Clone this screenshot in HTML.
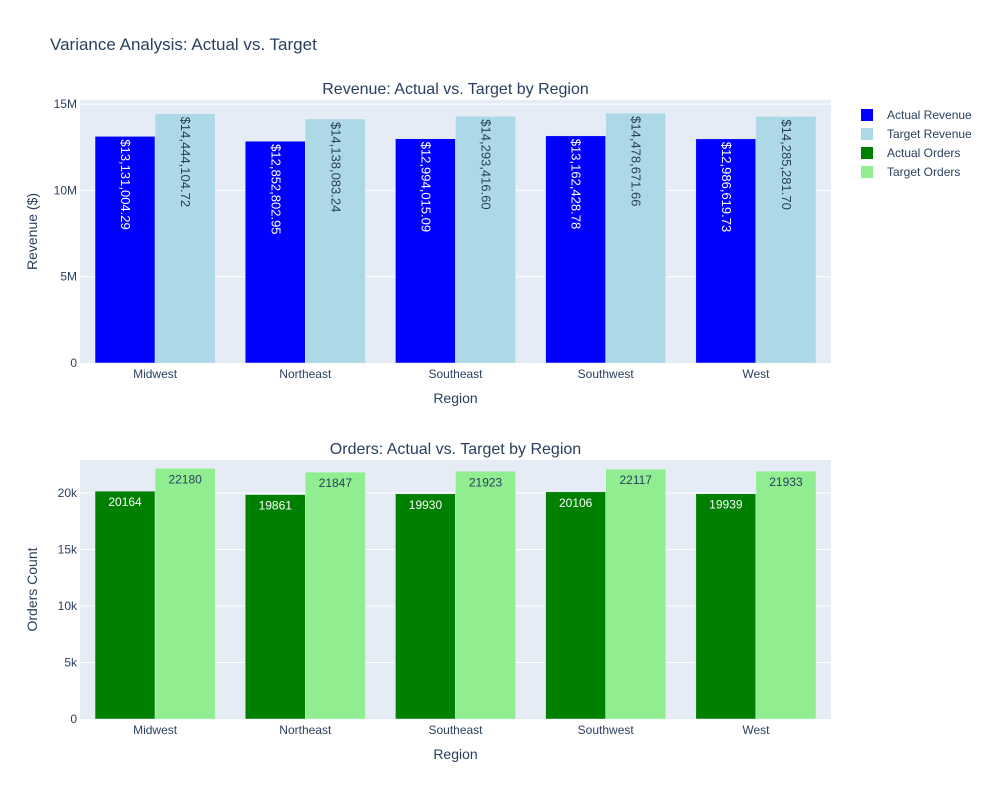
<!DOCTYPE html>
<html><head><meta charset="utf-8">
<style>
body{margin:0;background:#fff;}
svg{font-family:"Liberation Sans",Arial,sans-serif;}
</style></head>
<body>
<svg id="chart" width="1000" height="800"></svg>
<script>
const regions = ["Midwest","Northeast","Southeast","Southwest","West"];
const actualRevenue = [13131004.29,12852802.95,12994015.09,13162428.78,12986619.73];
const targetRevenue = [14444104.72,14138083.24,14293416.60,14478671.66,14285281.70];
const actualOrders = [20164,19861,19930,20106,19939];
const targetOrders = [22180,21847,21923,22117,21933];
const revTicks = [0,5e6,10e6,15e6];
const revTickLabels = ["0","5M","10M","15M"];
const ordTicks = [0,5000,10000,15000,20000];
const ordTickLabels = ["0","5k","10k","15k","20k"];

const NS="http://www.w3.org/2000/svg";
const svg=document.getElementById('chart');
function mk(tag,attrs,parent){const e=document.createElementNS(NS,tag);for(const k in attrs)e.setAttribute(k,attrs[k]);(parent||svg).appendChild(e);return e;}
function txt(s,attrs,parent){const e=mk('text',attrs,parent);e.textContent=s;return e;}
const fmtMoney=v=>'$'+v.toLocaleString('en-US',{minimumFractionDigits:2,maximumFractionDigits:2});

const X0=80,X1=831,BAND=(X1-X0)/regions.length;
function xCenter(i){return X0+BAND*(i+0.5);}

let t=txt("Variance Analysis: Actual vs. Target",{x:50,y:50,'font-size':17,fill:'#2a3f5f'});


function panel(cfg){
  const g=mk('g',{});
  
  
  const y=v=>cfg.y0-(v/cfg.unit)*cfg.unitPx;
  const bg=mk('rect',{x:X0,y:cfg.top,width:X1-X0,height:cfg.y0-cfg.top,fill:'#E5ECF6'},g);
  
  cfg.ticks.forEach((v,i)=>{
    const yy=y(v);
    if(v>0){const l=mk('line',{x1:X0,x2:X1,y1:yy,y2:yy,stroke:'#fff','stroke-width':1},g);
      }
    const tl=txt(cfg.tickLabels[i],{x:X0-3,y:yy+4,'text-anchor':'end','font-size':12,fill:'#2a3f5f'},g);
    
  });
  const bw=BAND*0.8/2;
  regions.forEach((r,i)=>{
    const c=xCenter(i);
    [[cfg.actual,cfg.colA,'#fff',c-bw],[cfg.target,cfg.colT,'#2a3f5f',c]].forEach((s,k)=>{
      const v=s[0][i],top=y(v);
      const b=mk('rect',{x:s[3],y:top,width:bw,height:cfg.y0-top,fill:s[1],stroke:'#E5ECF6','stroke-width':0.5},g);
      
      
      const cx=s[3]+bw/2;
      let lab;
      if(cfg.rotate){
        lab=txt(fmtMoney(v),{x:0,y:0,'font-size':13,fill:s[2],transform:`translate(${cx-4},${top+3}) rotate(90)`},g);
      } else {
        lab=txt(String(v),{x:cx,y:top+15,'text-anchor':'middle','font-size':12,fill:s[2]},g);
      }
      
    });
    const xl=txt(r,{x:c,y:cfg.y0+15,'text-anchor':'middle','font-size':12,fill:'#2a3f5f'},g);
    
  });
  const st=txt(cfg.title,{x:(X0+X1)/2,y:cfg.top-6,'text-anchor':'middle','font-size':16,fill:'#2a3f5f'},g);
  
  const xt=txt("Region",{x:(X0+X1)/2,y:cfg.y0+40,'text-anchor':'middle','font-size':14,fill:'#2a3f5f'},g);
  
  const ym=(cfg.top+cfg.y0)/2;
  const yt=txt(cfg.ytitle,{x:0,y:0,'text-anchor':'middle','font-size':14,fill:'#2a3f5f',transform:`translate(37,${ym}) rotate(-90)`},g);
  
}
panel({name:'revenue-panel',kind:'revenue',top:100,y0:363,unit:5e6,unitPx:86.3,ticks:revTicks,tickLabels:revTickLabels,
  actual:actualRevenue,target:targetRevenue,colA:'#0000ff',colT:'#add8e6',rotate:true,
  title:'Revenue: Actual vs. Target by Region',ytitle:'Revenue ($)'});
panel({name:'orders-panel',kind:'orders',top:460,y0:719,unit:5000,unitPx:56.5,ticks:ordTicks,tickLabels:ordTickLabels,
  actual:actualOrders,target:targetOrders,colA:'#008000',colT:'#90ee90',rotate:false,
  title:'Orders: Actual vs. Target by Region',ytitle:'Orders Count'});

const legend=[["Actual Revenue","#0000ff"],["Target Revenue","#add8e6"],["Actual Orders","#008000"],["Target Orders","#90ee90"]];
legend.forEach((l,i)=>{
  const g=mk('g',{});
  
  
  const yy=115+i*19;
  mk('rect',{x:861,y:yy-6,width:12,height:12,fill:l[1]},g);
  txt(l[0],{x:887,y:yy+4,'font-size':12,fill:'#2a3f5f'},g);
});
</script>
</body></html>
